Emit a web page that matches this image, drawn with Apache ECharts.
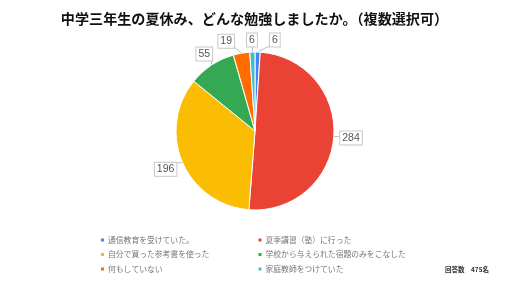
<!DOCTYPE html>
<html><head><meta charset="utf-8">
<script src="https://cdn.jsdelivr.net/npm/echarts@6/dist/echarts.min.js"></script>
<style>html,body{margin:0;padding:0;background:#fff}#c{width:509px;height:281px}</style>
</head><body><div id="c"></div>
<script>
const titleText = '中学三年生の夏休み、どんな勉強しましたか。（複数選択可）';
const categories = ['通信教育を受けていた。','夏季講習（塾）に行った','自分で買った参考書を使った','学校から与えられた宿題のみをこなした','何もしていない','家庭教師をつけていた'];
const values = [6, 284, 196, 55, 19, 6];
const colors = ['#4285F4','#EA4335','#FBBC04','#34A853','#FF6D01','#46BDC6'];
const noteText = '回答数　475名';

const font = '"Noto Sans CJK JP", "Noto Sans", sans-serif';
const labelFont = 'Arial, "Liberation Sans", sans-serif';
const labelFontSize = 10.5;
const pieCenter = [255, 131];
const pieRadius = 79;
const labelGap = 6;
const labelSpacing = 12;

// Compute label boxes from the data angles (same geometry as the pie)
const measureCtx = document.createElement('canvas').getContext('2d');
measureCtx.font = labelFontSize + 'px ' + labelFont;
const total = values.reduce((a,b)=>a+b,0);
const labelBoxes = [];
(function(){
  let acc = 0;
  const raw = values.map((v,i)=>{
    const mid = (acc + v/2) / total * 2 * Math.PI; acc += v;
    const d = [Math.sin(mid), -Math.cos(mid)];
    const p0 = [pieCenter[0] + pieRadius*d[0], pieCenter[1] + pieRadius*d[1]];
    const w = measureCtx.measureText(String(v)).width + 5;
    const h = 12;
    const ext = Math.min(Math.abs(d[0])>1e-6 ? (w/2)/Math.abs(d[0]) : 1e9, Math.abs(d[1])>1e-6 ? (h/2)/Math.abs(d[1]) : 1e9);
    return {p0, d, w, h, cx: p0[0] + d[0]*(labelGap+ext), cy: p0[1] + d[1]*(labelGap+ext)};
  });
  const placed = [];
  for (let i = raw.length-1; i >= 0; i--) {
    const b = raw[i];
    for (const o of placed) {
      const ox = (b.w + o.w)/2 - Math.abs(b.cx - o.cx);
      const oy = (b.h + o.h)/2 - Math.abs(b.cy - o.cy);
      if (ox > 0 && oy > 0) {
        const dir = b.cx >= o.cx ? 1 : -1;
        b.cx = o.cx + dir*((b.w + o.w)/2 + labelSpacing);
      }
    }
    placed.push(b);
    labelBoxes[i] = b;
  }
})();

const chart = echarts.init(document.getElementById('c'), null, {renderer:'canvas'});
chart.setOption({
  animation:false,
  color: colors,
  title:{text:titleText, left:'center', top:7, padding:[5,0,5,17], textStyle:{fontSize:14.1, fontWeight:'bold', color:'#111', fontFamily:font}},
  legend:{
    left:99, top:234.5, width:322, padding:0, orient:'horizontal',
    icon:'rect', itemWidth:5, itemHeight:5, itemGap:3.5, selectedMode:false,
    textStyle:{fontSize:7.8, color:'#777', fontFamily:font, width:145, lineHeight:11, padding:[0,0,0,-2]},
    data: categories
  },
  graphic:[{type:'text', left:445, top:266, style:{text:noteText, font:'bold 6.5px '+font, fill:'#333'}}],
  series:[{
    type:'pie', center:pieCenter, radius:pieRadius, startAngle:90, clockwise:true,
    avoidLabelOverlap:false,
    itemStyle:{borderColor:'#fff', borderWidth:1},
    label:{show:true, position:'outside', formatter:'{c}', fontSize:labelFontSize, color:'#555', fontFamily:labelFont,
      backgroundColor:'#fff', borderColor:'#c8c8c8', borderWidth:1, padding:[1,2,1,2]},
    labelLine:{show:true, length:6, length2:4, lineStyle:{color:'#bbb', width:1}},
    labelLayout: function(params){
      const b = labelBoxes[params.dataIndex];
      if (!b) return {};
      const x0 = b.cx - b.w/2, x1 = b.cx + b.w/2, y0 = b.cy - b.h/2, y1 = b.cy + b.h/2;
      const q = [Math.min(Math.max(b.p0[0], x0), x1), Math.min(Math.max(b.p0[1], y0), y1)];
      return {x:b.cx, y:b.cy, align:'center', verticalAlign:'middle', labelLinePoints:[b.p0, q, q]};
    },
    data: categories.map((n,i)=>({name:n, value:values[i]}))
  }]
});
</script></body></html>
